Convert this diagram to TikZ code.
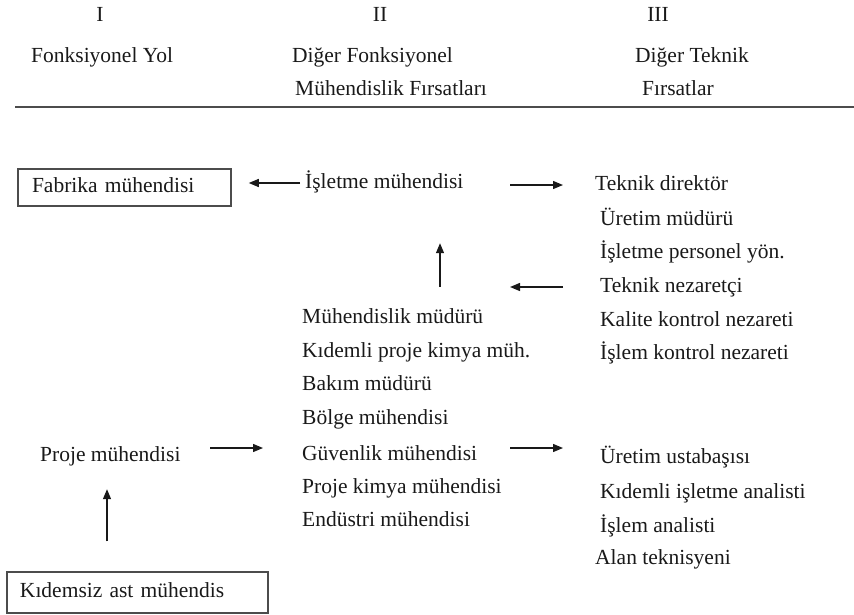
\documentclass[tikz,border=0pt]{standalone}
\usepackage{fontspec}
\setmainfont{Liberation Serif}
\usetikzlibrary{arrows.meta}
\begin{document}
\begin{tikzpicture}[x=1pt,y=-1pt,
  lbl/.style={anchor=west,inner sep=0pt,text height=15pt,text depth=5pt,
    font=\fontsize{21.5}{24}\selectfont,text=black!90},
  hdr/.style={inner sep=0pt,text height=15pt,text depth=5pt,
    font=\fontsize{21.5}{24}\selectfont,text=black!90},
  boxed/.style={draw=black!70,line width=1.5pt,inner xsep=0pt,inner ysep=0pt,
    text height=15pt,text depth=5pt,
    align=left,font=\fontsize{21.5}{24}\selectfont,text=black!90},
  arr/.style={-{Triangle[length=10pt,width=8pt]},line width=1.3pt,draw=black!90},
  rulel/.style={line width=2pt,draw=black!70}]
\useasboundingbox (0,0) rectangle (854,614);
% header
\node[hdr] (h1) at (100,16) {I};
\node[hdr] (h2) at (380,16) {II};
\node[hdr] (h3) at (658,16) {III};
\node[lbl] (fy) at (31,57) {Fonksiyonel Yol};
\node[lbl] (df) at (292,57) {Diğer Fonksiyonel};
\node[lbl] (mf) at (295,90) {Mühendislik Fırsatları};
\node[lbl] (dt) at (635,57) {Diğer Teknik};
\node[lbl] (fs) at (642,90) {Fırsatlar};
\draw[rulel] (15,107) -- (854,107);
% column I
\node[boxed,minimum width=213pt,minimum height=37pt,text width=213pt] (fab) at (124.5,187.5) {\hspace*{14pt}Fabrika mühendisi};
\node[lbl] (pj) at (40,456) {Proje mühendisi};
\node[boxed,minimum width=261pt,minimum height=41pt,text width=261pt] (ks) at (137.5,592.5) {\hspace*{13pt}Kıdemsiz ast mühendis};
% column II
\node[lbl] (isl) at (305,183) {İşletme mühendisi};
\node[lbl] (mm) at (302,318) {Mühendislik müdürü};
\node[lbl] (kp) at (302,352) {Kıdemli proje kimya müh.};
\node[lbl] (bm) at (302,385) {Bakım müdürü};
\node[lbl] (bo) at (302,419) {Bölge mühendisi};
\node[lbl] (gv) at (302,455) {Güvenlik mühendisi};
\node[lbl] (pk) at (302,488) {Proje kimya mühendisi};
\node[lbl] (en) at (302,521) {Endüstri mühendisi};
% column III
\node[lbl] (td) at (595,185) {Teknik direktör};
\node[lbl] (um) at (600,220) {Üretim müdürü};
\node[lbl] (ip) at (600,253) {İşletme personel yön.};
\node[lbl] (tn) at (600,287) {Teknik nezaretçi};
\node[lbl] (kk) at (600,321) {Kalite kontrol nezareti};
\node[lbl] (ik) at (600,354) {İşlem kontrol nezareti};
\node[lbl] (uu) at (600,458) {Üretim ustabaşısı};
\node[lbl] (ki) at (600,493) {Kıdemli işletme analisti};
\node[lbl] (ia) at (600,527) {İşlem analisti};
\node[lbl] (at) at (595,559) {Alan teknisyeni};
% helper columns
\coordinate (colA) at (510,0);
\coordinate (colP) at (210,0);
\coordinate (colV) at (440,0);
\coordinate (colK) at (107,0);
% arrows
\draw[arr,shorten <=5pt,shorten >=17pt] (isl.west) -- (fab.east |- isl.west);
\draw[arr,shorten >=32pt] (td.west -| colA) -- (td.west);
\draw[arr,shorten <=21pt,shorten >=50pt] (mm.north -| colV) -- (isl.south -| colV);
\draw[arr,shorten <=37pt] (tn.west) -- (tn.west -| colA);
\draw[arr,shorten >=39pt] ([yshift=8pt]pj.east -| colP) -- ([yshift=8pt]pj.east -| gv.west);
\draw[arr,shorten >=37pt] ([yshift=7pt]gv.west -| colA) -- ([yshift=7pt]gv.west -| uu.west);
\draw[arr,shorten <=30pt,shorten >=23pt] (ks.north -| colK) -- (pj.south -| colK);
\end{tikzpicture}
\end{document}
